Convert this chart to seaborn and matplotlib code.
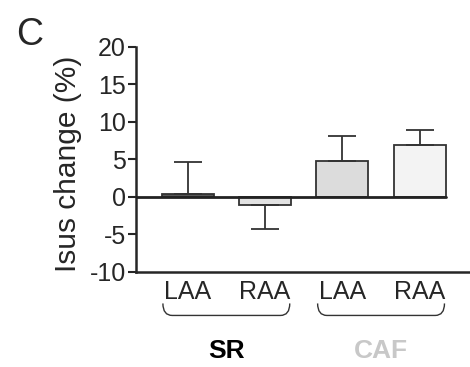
import numpy as np
import pandas as pd
import matplotlib
matplotlib.use('Agg')
import matplotlib.pyplot as plt
from matplotlib.path import Path
from matplotlib.patches import PathPatch
import seaborn as sns

# data
groups = ['SR', 'SR', 'CAF', 'CAF']
regions = ['LAA', 'RAA', 'LAA', 'RAA']
means = [0.4, -1.1, 4.8, 6.9]
errors = [4.3, 3.2, 3.3, 2.0]
bar_colors = ['#585858', '#e2e2e2', '#dcdcdc', '#f3f3f3']
group_names = ['SR', 'CAF']
group_colors = ['black', '#c8c8c8']

sns.set_style('ticks')
plt.rcParams['font.family'] = ['Liberation Sans', 'DejaVu Sans']
plt.rcParams['axes.unicode_minus'] = False

df = pd.DataFrame({'key': [g + ' ' + r for g, r in zip(groups, regions)],
                   'value': means})

fig = plt.figure(figsize=(4.7, 3.67), dpi=100)
ax = fig.add_axes([0.289, 0.259, 0.711, 0.613])

sns.barplot(data=df, x='key', y='value', hue='key', palette=bar_colors,
            width=0.67, edgecolor='#333333', linewidth=1.3, legend=False, ax=ax)

# one-sided error bars (away from zero)
x = np.arange(len(means))
lower = [e if m < 0 else 0 for m, e in zip(means, errors)]
upper = [e if m >= 0 else 0 for m, e in zip(means, errors)]
ax.errorbar(x, means, yerr=[lower, upper], fmt='none', ecolor='#333333',
            elinewidth=1.3, capsize=10, capthick=1.3)

ax.plot([-0.67, 3.335], [0, 0], color='#222222', lw=2, zorder=5)

ax.set_xlim(-0.67, 3.65)
ax.set_ylim(-10, 20)
ax.set_yticks([-10, -5, 0, 5, 10, 15, 20])
ax.set_xticks(x)
ax.set_xticklabels(regions)
ax.tick_params(axis='y', labelsize=18, width=1.5, length=6, pad=1)
ax.tick_params(axis='x', labelsize=18, length=0, pad=6)
ax.set_xlabel('')
ax.set_ylabel('Isus change (%)', fontsize=21.5)
ax.yaxis.set_label_coords(-0.16, 0.48)
for s in ['left', 'bottom']:
    ax.spines[s].set_linewidth(1.8)
sns.despine(ax=ax)

# braces under each group
for gi, (name, col) in enumerate(zip(group_names, group_colors)):
    x0, x1 = 2 * gi - 0.32, 2 * gi + 1.32
    y0, y1, r = -14.2, -15.8, 0.12
    verts = [(x0, y0), (x0, y1), (x0 + r, y1), (x1 - r, y1), (x1, y1), (x1, y0)]
    codes = [Path.MOVETO, Path.CURVE3, Path.CURVE3, Path.LINETO, Path.CURVE3, Path.CURVE3]
    ax.add_patch(PathPatch(Path(verts, codes), fill=False, lw=1.0,
                           edgecolor='#333333', clip_on=False))
    ax.text(2 * gi + 0.5, -20.5, name, ha='center', va='center', fontsize=19,
            fontweight='bold', color=col, clip_on=False)

fig.text(0.035, 0.905, 'C', fontsize=27, ha='left', va='center')

fig.savefig('out.png', dpi=100)
